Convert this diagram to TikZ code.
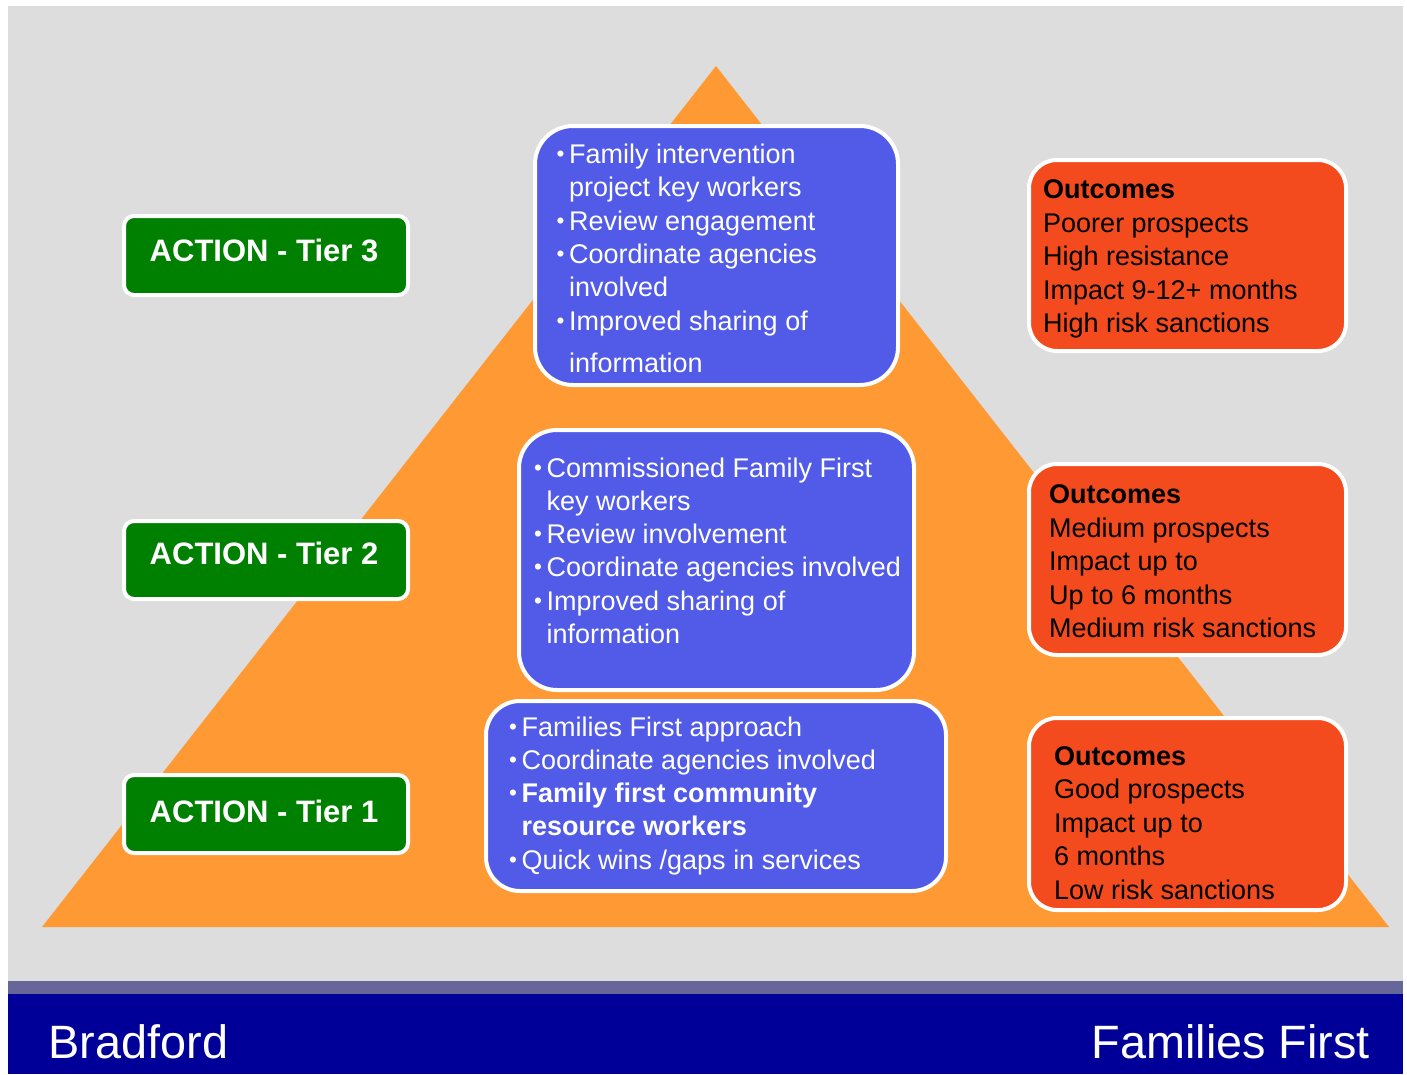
\documentclass[tikz,border=0pt]{standalone}
\usepackage{fontspec}
\setmainfont{Liberation Sans}
\definecolor{cBg}{HTML}{DDDDDD}
\definecolor{cPyr}{HTML}{FF9933}
\definecolor{cBlue}{HTML}{525BE8}
\definecolor{cRed}{HTML}{F44B1E}
\definecolor{cGreen}{HTML}{008000}
\definecolor{cStripe}{HTML}{666699}
\definecolor{cNavy}{HTML}{000099}
\newcommand\bul{\makebox[12.5pt][l]{\fontsize{22.5}{22.5}\selectfont\raisebox{2pt}{\textbullet}}}
\tikzset{
  boxbase/.style={draw=white, line width=4pt, inner sep=0pt},
  bluebox/.style={boxbase, fill=cBlue, rounded corners=38pt},
  redbox/.style={boxbase, fill=cRed, rounded corners=28pt},
  greenbox/.style={boxbase, fill=cGreen, rounded corners=10pt},
  listtext/.style={anchor=base west, inner sep=0pt, text=white, font=\fontsize{27}{33.3}\selectfont},
  outtext/.style={anchor=base west, inner sep=0pt, text=black, font=\fontsize{27}{33.5}\selectfont},
  actiontext/.style={anchor=base, inner sep=0pt, text=white, font=\fontsize{31}{36}\selectfont\bfseries},
  foottext/.style={inner sep=0pt, text=white, font=\fontsize{46.8}{50}\selectfont}
}
\begin{document}
\begin{tikzpicture}[x=1pt,y=-1pt]
\useasboundingbox (0,0) rectangle (1407,1074);
\fill[white] (0,0) rectangle (1407,1074);
\fill[cBg] (8,6) rectangle (1403,981);
\fill[cStripe] (8,981) rectangle (1403,993.5);
\fill[cNavy] (8,993.5) rectangle (1403,1074);
\fill[cPyr] (716,66) -- (1389,927) -- (42,927) -- cycle;

% action boxes
\node[greenbox, minimum width=284pt, minimum height=79pt] (g3) at (266,255.5) {};
\node[greenbox, minimum width=284pt, minimum height=78pt] (g2) at (266,560) {};
\node[greenbox, minimum width=284pt, minimum height=78pt] (g1) at (266,814) {};
\node[actiontext] (ga3) at (264,261) {ACTION - Tier 3};
\node[actiontext] (ga2) at (264,564) {ACTION - Tier 2};
\node[actiontext] (ga1) at (264,822) {ACTION - Tier 1};

% blue boxes
\node[bluebox, minimum width=363pt, minimum height=259pt] (b3) at (716.5,255.5) {};
\node[bluebox, minimum width=395pt, minimum height=260pt] (b2) at (716.5,560) {};
\node[bluebox, minimum width=460pt, minimum height=190pt, rounded corners=34pt] (b1) at (716,796) {};

\node[listtext] (t3) at (556.5,163.5) {\begin{tabular}[t]{@{}l@{}l@{}}
\bul & Family intervention\\
 & project key workers\\
\bul & Review engagement\\
\bul & Coordinate agencies\\
 & involved\\
\bul & Improved sharing of\\[9.5pt]
 & information
\end{tabular}};

\node[listtext] (t2) at (534,477) {\begin{tabular}[t]{@{}l@{}l@{}}
\bul & Commissioned Family First\\
 & key workers\\
\bul & Review involvement\\
\bul & Coordinate agencies involved\\
\bul & Improved sharing of\\
 & information
\end{tabular}};

\node[listtext] (t1) at (509,736) {\begin{tabular}[t]{@{}l@{}l@{}}
\bul & Families First approach\\
\bul & Coordinate agencies involved\\
\bul & \textbf{Family first community}\\
 & \textbf{resource workers}\\
\bul & Quick wins /gaps in services
\end{tabular}};

% outcome boxes
\node[redbox, minimum width=317pt, minimum height=191pt] (o3) at (1187.5,255.5) {};
\node[redbox, minimum width=317pt, minimum height=191pt] (o2) at (1187.5,559.5) {};
\node[redbox, minimum width=317pt, minimum height=192pt] (o1) at (1187.5,814) {};

\node[outtext] (u3) at (1043,198.5) {\begin{tabular}[t]{@{}l@{}}
\textbf{Outcomes}\\
Poorer prospects\\
High resistance\\
Impact 9-12+ months\\
High risk sanctions
\end{tabular}};

\node[outtext] (u2) at (1049,503.5) {\begin{tabular}[t]{@{}l@{}}
\textbf{Outcomes}\\
Medium prospects\\
Impact up to\\
Up to 6 months\\
Medium risk sanctions
\end{tabular}};

\node[outtext] (u1) at (1054,765) {\begin{tabular}[t]{@{}l@{}}
\textbf{Outcomes}\\
Good prospects\\
Impact up to\\
6 months\\
Low risk sanctions
\end{tabular}};

% footer
\node[foottext, anchor=base west] (fl) at (48.5,1058) {Bradford};
\node[foottext, anchor=base east] (fr) at (1370,1058) {Families First};
\end{tikzpicture}
\end{document}
